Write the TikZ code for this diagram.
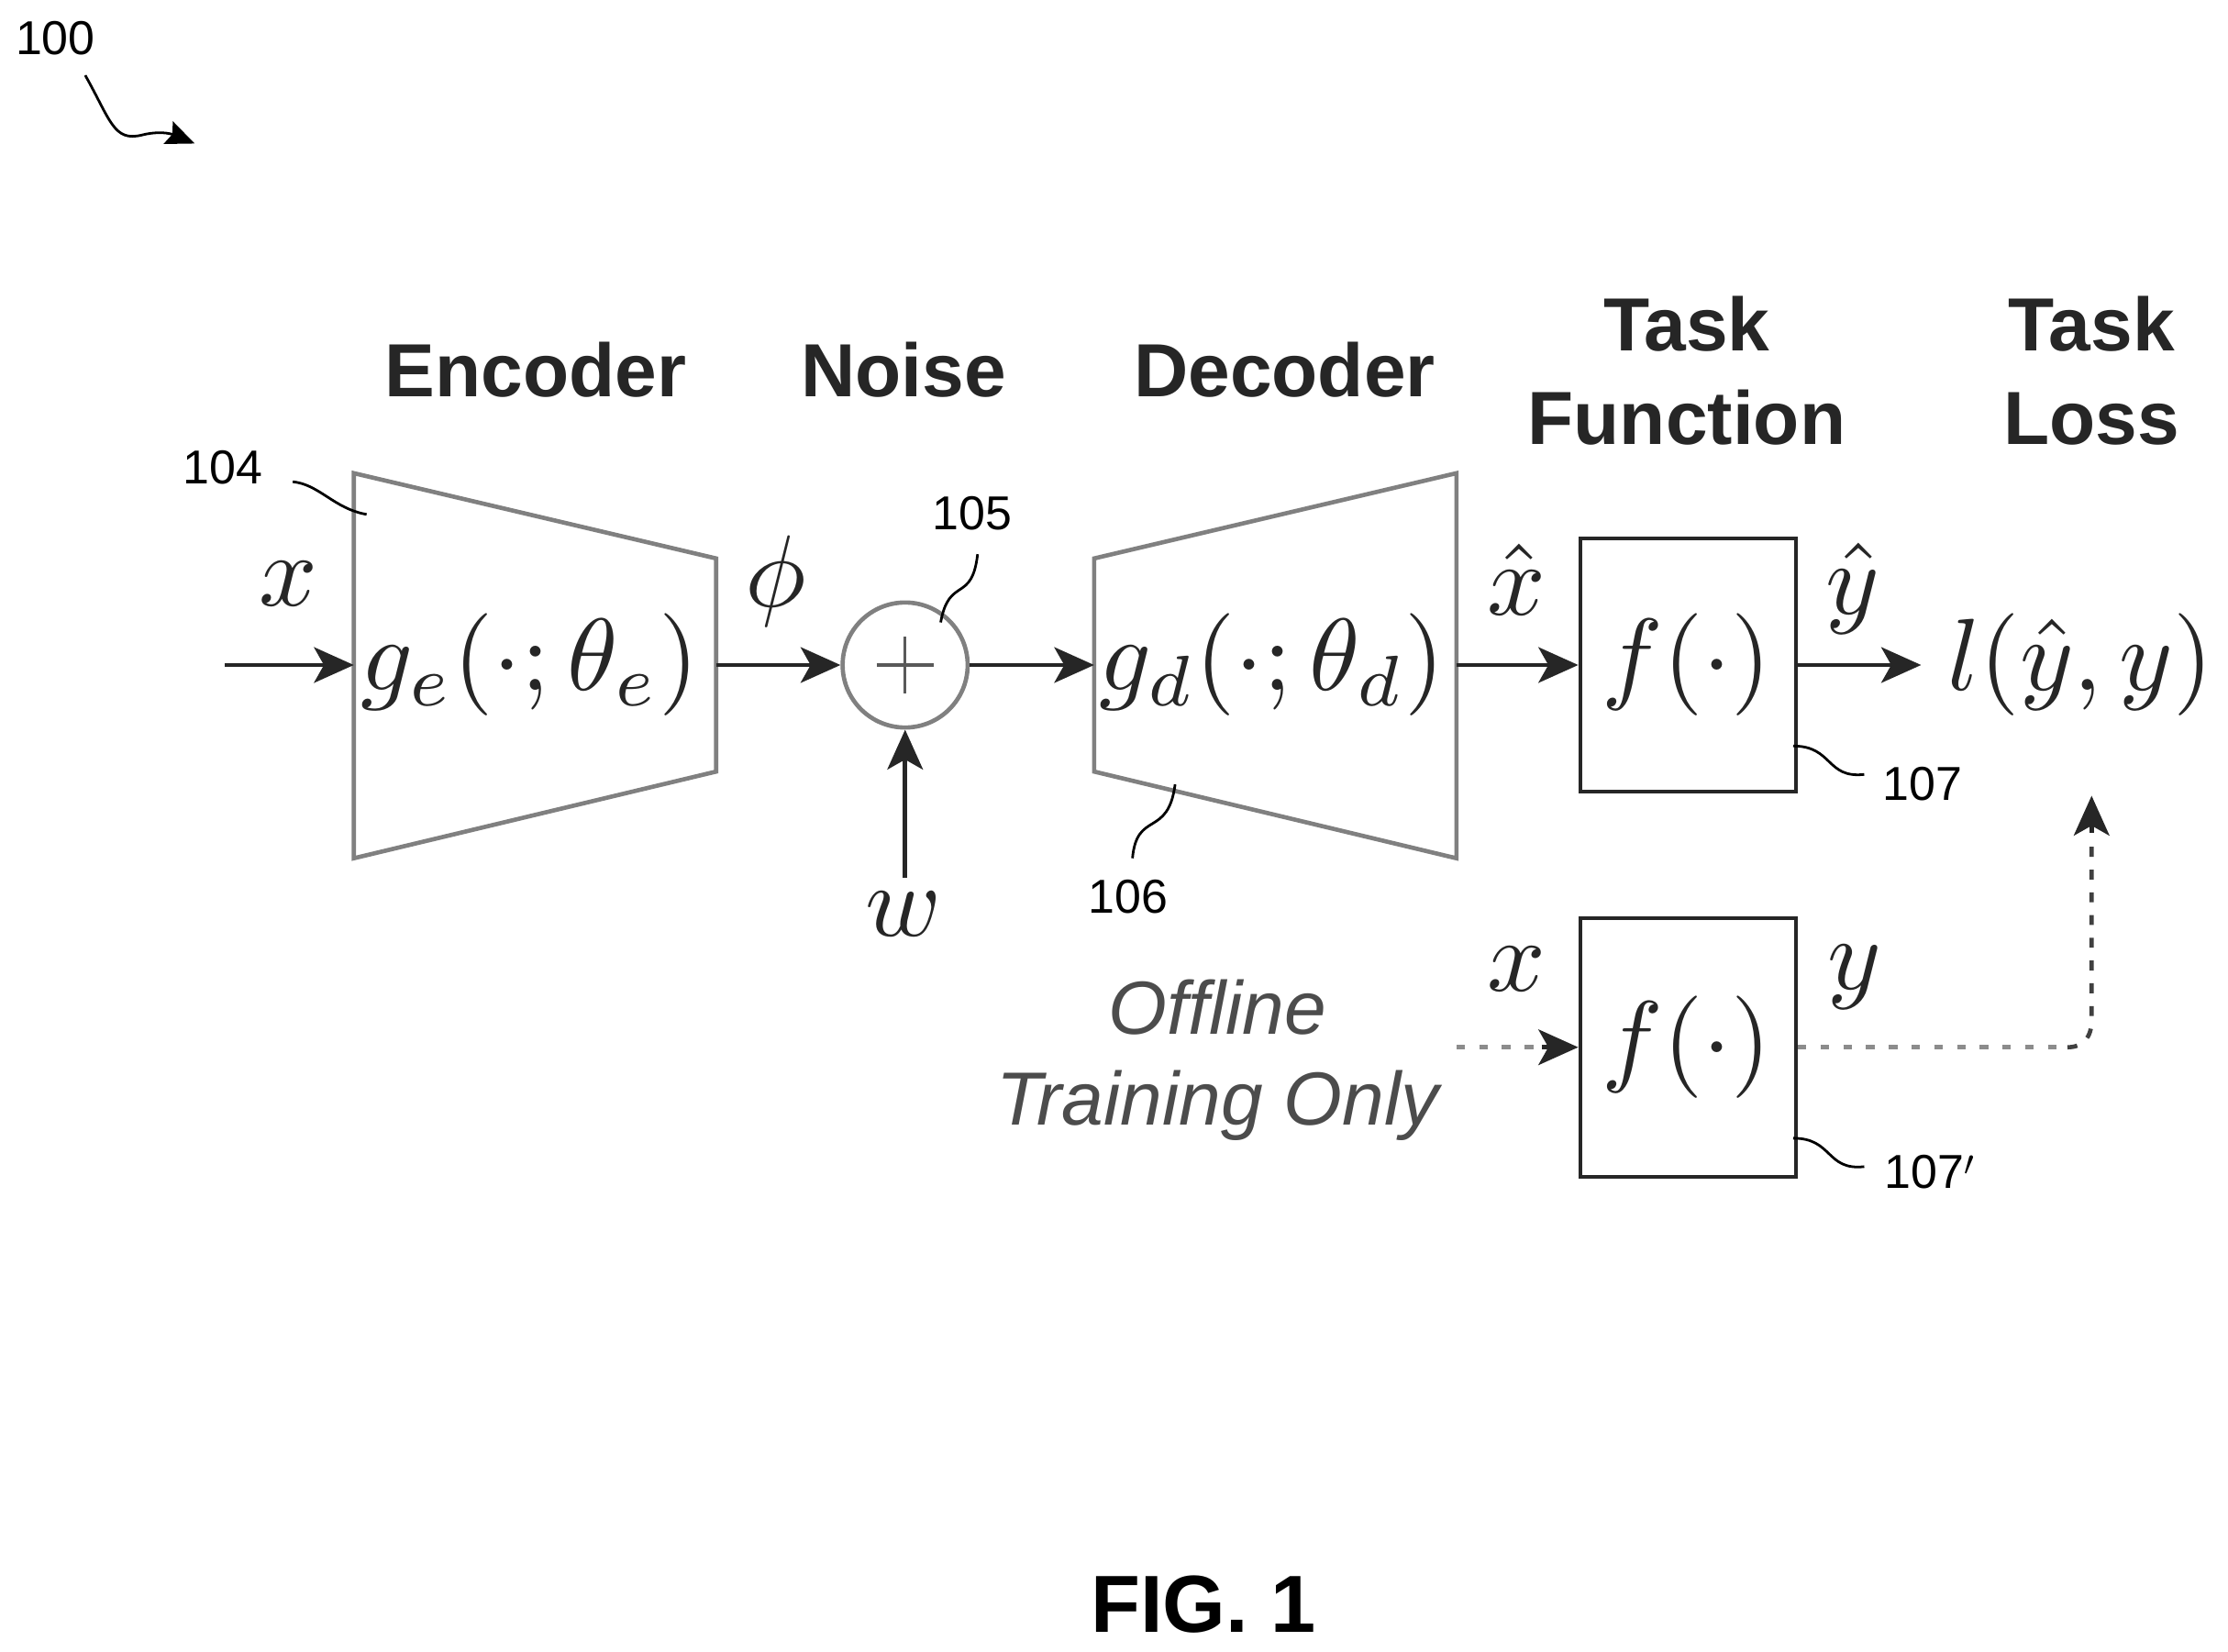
\documentclass[tikz,border=0pt]{standalone}
\usepackage{amsmath}
\usepackage{fontspec}
\setmainfont{Liberation Sans}
\usetikzlibrary{arrows.meta}
\tikzset{
 x=1pt,y=-1pt,
 grayline/.style={draw=black!50,line width=3pt},
 flow/.style={draw=black!85,line width=3pt,-{Stealth[length=28pt,width=25pt,inset=7pt]}},
 dotgray/.style={draw=black!45,line width=3.4pt,dash pattern=on 6pt off 10pt},
 dotdark/.style={draw=black!75,line width=3pt,dash pattern=on 7pt off 9pt},
 lead/.style={draw=black,line width=1.8pt},
 ref/.style={font=\fontsize{33.5}{38}\selectfont,inner sep=0pt},
 head/.style={font=\fontsize{53}{66}\selectfont\bfseries,text=black!85,inner sep=0pt,align=center},
 mth/.style={inner sep=0pt,text=black!85,scale=7.2},
}
\begin{document}
\begin{tikzpicture}
\useasboundingbox (0,0) rectangle (1568,1162.6);
\fill[white] (0,0) rectangle (1568,1162.6);
% reference 100
\node[ref] (r100) at (39,27) {100};
\coordinate (a1) at (60,53);
\coordinate (a2) at (137,101);
\draw[lead,-{Stealth[length=20pt,width=17pt,inset=3pt]}] (a1) .. controls (78,85) and (80,100) .. (100,95) .. controls (112,92) and (120,94) .. (a2);
% headings
\node[head] (hEnc) at (377,260) {Encoder};
\node[head] (hNoise) at (636,260) {Noise};
\node[head] (hDec) at (904,260) {Decoder};
\node[head] (hTF) at (1187,261) {Task\\Function};
\node[head] (hTL) at (1472,261) {Task\\Loss};
% encoder, decoder
\draw[grayline] (249,333) -- (504,393) -- (504,543) -- (249,604) -- cycle;
\draw[grayline] (770,393) -- (1025,333) -- (1025,604) -- (770,543) -- cycle;
\coordinate (encL) at (249,468);
\coordinate (encR) at (504,468);
\coordinate (decL) at (770,468);
\coordinate (decR) at (1025,468);
\node[mth] (ge) at (373,468) {$g_e(\cdot;\theta_e)$};
\node[mth] (gd) at (895,468) {$g_d(\cdot;\theta_d)$};
% adder
\node[draw=black!50,line width=3pt,circle,minimum size=88pt,inner sep=0pt] (sum) at (637,468) {};
\draw[black!65,line width=2pt] (637,448) -- (637,488) (617,468) -- (657,468);
\node[mth] (w) at (636,643) {$w$};
\coordinate (wTop) at (637,618);
% boxes
\node[draw=black!85,line width=2.6pt,minimum width=152pt,minimum height=178pt,inner sep=0pt] (f1) at (1188,468) {};
\node[draw=black!85,line width=2.6pt,minimum width=152pt,minimum height=182pt,inner sep=0pt] (f2) at (1188,737) {};
\node[mth] (f1t) at (1187,468) {$f(\cdot)$};
\node[mth] (f2t) at (1187,737) {$f(\cdot)$};
\node[mth] (loss) at (1464,468) {$l(\hat y,y)$};
% symbols
\node[mth] (x1) at (203,411) {$x$};
\node[mth] (phi) at (546,409) {$\phi$};
\node[mth] (xh) at (1067,408) {$\hat x$};
\node[mth] (yh) at (1304,414) {$\hat y$};
\node[mth] (x2) at (1067,682) {$x$};
\node[mth] (y2) at (1305,688) {$y$};
% connectors
\coordinate (in) at (158,468);
\coordinate (lossIn) at (1352,468);
\draw[flow] (in) -- (encL);
\draw[flow] (encR) -- (sum.west);
\draw[flow] (sum.east) -- (decL);
\draw[flow] (decR) -- (f1.west);
\draw[flow] (f1.east) -- (lossIn);
\draw[flow] (wTop) -- (sum.south);
% offline
\node[font=\fontsize{53}{64}\selectfont\itshape,text=black!70,inner sep=0pt,align=center] (off) at (857,746) {Offline\\Training Only};
\coordinate (ds) at (1025,737);
\coordinate (corner) at (1455,737);
\coordinate (lt) at (1472,560);
\draw[dotgray] (ds) -- (1085,737);
\draw[flow,draw=black!85] (1085,737) -- (f2.west);
\draw[dotgray] (f2.east) -- (corner);
\draw[dotdark] (corner) .. controls (1466,737) and (1472,730) .. (1472,718) -- (1472,590);
\draw[flow] (1472,586) -- (lt);
% leaders
\node[ref] (r104) at (157,329) {104};
\draw[lead] (206,339) .. controls (225,341) and (235,358) .. (258,362);
\node[ref] (r105) at (684,361) {105};
\draw[lead] (688,390) .. controls (684,425) and (668,405) .. (662,438);
\node[ref] (r106) at (794,631) {106};
\draw[lead] (797,604) .. controls (800,570) and (822,590) .. (827,552);
\node[ref] (r107) at (1353,552) {107};
\draw[lead] (1262,525) .. controls (1290,525) and (1285,548) .. (1312,545);
\node[ref] (r107p) at (1358,825) {107$'$};
\draw[lead] (1262,801) .. controls (1290,801) and (1285,824) .. (1312,821);
% caption
\node[font=\fontsize{57}{64}\selectfont\bfseries,inner sep=0pt] (fig) at (847,1129) {FIG. 1};
\end{tikzpicture}
\end{document}
